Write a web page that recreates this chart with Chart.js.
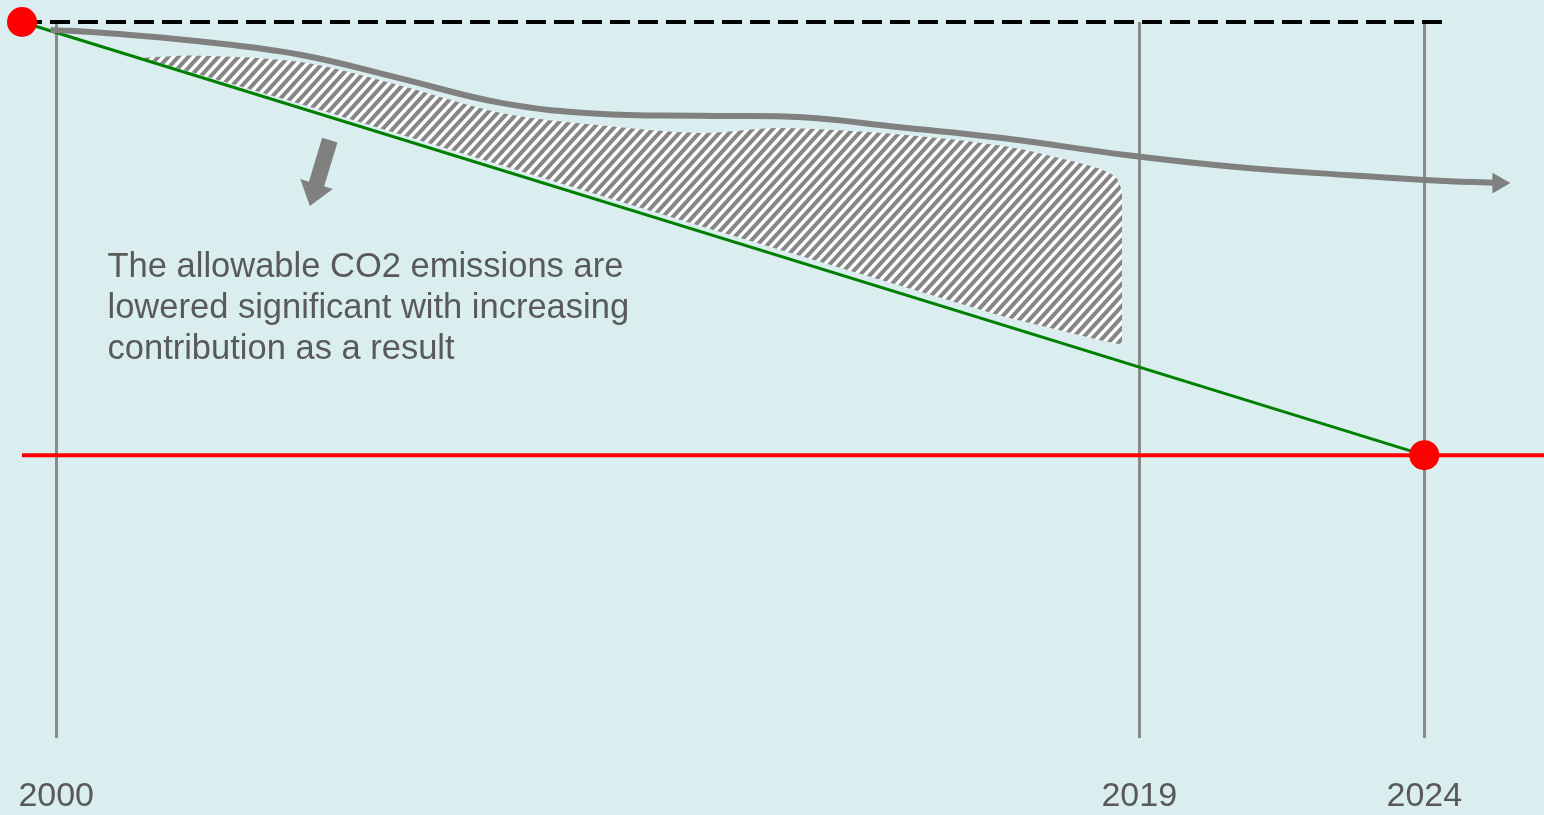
<!DOCTYPE html>
<html>
<head>
<meta charset="utf-8">
<script src="https://cdn.jsdelivr.net/npm/chart.js@4.4.1/dist/chart.umd.min.js"></script>
<style>
  html, body { margin: 0; padding: 0; background: #daedef; }
  #wrap { width: 1544px; height: 815px; }
</style>
</head>
<body>
<div id="wrap"><canvas id="co2Chart"></canvas></div>
<script>
// years marked on the time line
let markYears = [2000, 2019, 2024];

// emissions index (2000 level = 100)
let startYear = 1999.4;
let baselineValue = 100;
let baselineEnd = 2024.45;
let targetValue = 39.5;
let targetYear = 2024;

// actual emissions curve
let actualYears  = [1999.9, 2000.8, 2002.5, 2004.3, 2006.0, 2007.8, 2009.5, 2011.3, 2013.1, 2014.8, 2016.6, 2018.8, 2020.9, 2022.7, 2024.1, 2025.3];
let actualValues = [98.9, 98.5, 97.3, 95.4, 92.2, 88.7, 87.2, 86.9, 86.7, 85.3, 83.8, 81.4, 79.6, 78.6, 77.9, 77.5];

// hatched gap between actual and allowed: upper and lower edge
let gapTopYears  = [2001.5, 2002.5, 2004.3, 2006.0, 2007.8, 2009.5, 2011.3, 2012.7, 2014.8, 2016.6, 2018.0, 2018.4, 2018.6, 2018.7];
let gapTopValues = [95.0, 95.3, 94.4, 91.2, 87.3, 85.6, 84.5, 85.2, 84.3, 82.7, 80.2, 79.2, 78.2, 76.3];
let gapLowYears  = [2001.5, 2004.3, 2011.3, 2016.6, 2018.3, 2018.72];
let gapLowValues = [95.0, 88.5, 71.5, 58.9, 55.6, 54.9];

// note and arrow (year, value)
let noteLines = ["The allowable CO2 emissions are", "lowered significant with increasing", "contribution as a result"];
let notePos = [2000.9, 64.4];
let arrowFrom = [2004.8, 83.5];
let arrowTo = [2004.45, 74.3];

function toPoints(xs, ys){
    let pts = [];
    for (let i=0; i<xs.length; i++){
        pts.push({x: xs[i], y: ys[i]});
    }
    return pts;
}

// diagonal gray/white stripes; lines run past the tile edges so no seams show
function makeHatch(){
    let c = document.createElement("canvas");
    let w = 40, h = 44, step = 10;
    c.width = w; c.height = h;
    let g = c.getContext("2d");
    g.fillStyle = "#ffffff";
    g.fillRect(0, 0, w, h);
    g.strokeStyle = "#868686";
    g.lineWidth = 4;
    for (let k=-8; k<=12; k++){
        g.beginPath();
        g.moveTo(k*step - w*0.5, h*1.5);
        g.lineTo(k*step + w*1.5, -h*0.5);
        g.stroke();
    }
    return g.createPattern(c, "repeat");
}

let actualPts = toPoints(actualYears, actualValues);
let lastIdx = actualPts.length - 1;

// note text and block arrow
const notePlugin = {
    id: "notes",
    afterDatasetsDraw(chart){
        let ctx = chart.ctx;
        let xs = chart.scales.x, ys = chart.scales.y;

        let fx = xs.getPixelForValue(arrowFrom[0]), fy = ys.getPixelForValue(arrowFrom[1]);
        let tx = xs.getPixelForValue(arrowTo[0]), ty = ys.getPixelForValue(arrowTo[1]);
        let dx = tx - fx, dy = ty - fy;
        let len = Math.sqrt(dx*dx + dy*dy);
        let ux = dx/len, uy = dy/len, nx = -uy, ny = ux;
        let bx = tx - ux*23, by = ty - uy*23;
        ctx.save();
        ctx.fillStyle = "#808080";
        ctx.beginPath();
        ctx.moveTo(fx + nx*8, fy + ny*8);
        ctx.lineTo(bx + nx*8, by + ny*8);
        ctx.lineTo(bx + nx*17, by + ny*17);
        ctx.lineTo(tx, ty);
        ctx.lineTo(bx - nx*17, by - ny*17);
        ctx.lineTo(bx - nx*8, by - ny*8);
        ctx.lineTo(fx - nx*8, fy - ny*8);
        ctx.closePath();
        ctx.fill();

        ctx.fillStyle = "#595959";
        ctx.font = "34.5px 'Liberation Sans', Arial, sans-serif";
        ctx.textBaseline = "alphabetic";
        ctx.textAlign = "left";
        let px = xs.getPixelForValue(notePos[0]);
        let py = ys.getPixelForValue(notePos[1]);
        for (let i=0; i<noteLines.length; i++){
            ctx.fillText(noteLines[i], px, py + i*41);
        }
        ctx.restore();
    }
};

new Chart(document.getElementById("co2Chart"), {
    type: "line",
    data: {
        datasets: [
            {
                // start and target points
                data: [{x: startYear, y: baselineValue}, {x: targetYear, y: targetValue}],
                showLine: false,
                pointRadius: 15,
                pointBackgroundColor: "#ff0000",
                pointBorderWidth: 0,
                clip: false
            },
            {
                // actual emissions
                data: actualPts,
                borderColor: "#808080",
                borderWidth: 6,
                tension: 0.4,
                pointRadius: (c) => c.dataIndex === lastIdx ? 12 : 0,
                pointStyle: "triangle",
                rotation: 90,
                pointBackgroundColor: "#808080",
                pointBorderWidth: 0,
                clip: false
            },
            {
                // allowed path
                data: [{x: startYear, y: baselineValue}, {x: targetYear, y: targetValue}],
                borderColor: "#008000",
                borderWidth: 3,
                pointRadius: 0,
                clip: false
            },
            {
                // target level
                data: [{x: startYear, y: targetValue}, {x: 2026.1, y: targetValue}],
                borderColor: "#ff0000",
                borderWidth: 4,
                pointRadius: 0,
                clip: false
            },
            {
                // 2000 level
                data: [{x: startYear, y: baselineValue}, {x: baselineEnd, y: baselineValue}],
                borderColor: "#000000",
                borderWidth: 4,
                borderDash: [20, 8],
                pointRadius: 0,
                clip: false
            },
            {
                // hatched gap, upper edge
                data: toPoints(gapTopYears, gapTopValues),
                borderWidth: 0,
                pointRadius: 0,
                tension: 0.3,
                backgroundColor: makeHatch(),
                fill: 6,
                clip: false
            },
            {
                // hatched gap, lower edge (not drawn)
                data: toPoints(gapLowYears, gapLowValues),
                borderWidth: 0,
                pointRadius: 0,
                fill: false,
                clip: false
            }
        ]
    },
    options: {
        responsive: true,
        maintainAspectRatio: false,
        animation: false,
        layout: {autoPadding: false, padding: {left: 22, top: 22, right: 0, bottom: 2}},
        plugins: {
            legend: {display: false},
            tooltip: {enabled: false}
        },
        scales: {
            x: {
                type: "linear",
                min: 1999.4,
                max: 2026.1,
                afterBuildTicks: (scale) => {
                    scale.ticks = markYears.map(v => ({value: v}));
                },
                afterFit: (scale) => {
                    // keep the plot area fixed, labels may overhang
                    scale.height = 75;
                    scale.paddingLeft = 0;
                    scale.paddingRight = 0;
                },
                ticks: {
                    autoSkip: false,
                    maxRotation: 0,
                    padding: 38,
                    color: "#595959",
                    font: {family: "'Liberation Sans', Arial, sans-serif", size: 34},
                    callback: (v) => String(v)
                },
                grid: {
                    color: "#8a8a8a",
                    lineWidth: 3,
                    drawTicks: false
                },
                border: {display: false}
            },
            y: {
                display: false,
                min: 0,
                max: 100
            }
        }
    },
    plugins: [notePlugin]
});
</script>
</body>
</html>
